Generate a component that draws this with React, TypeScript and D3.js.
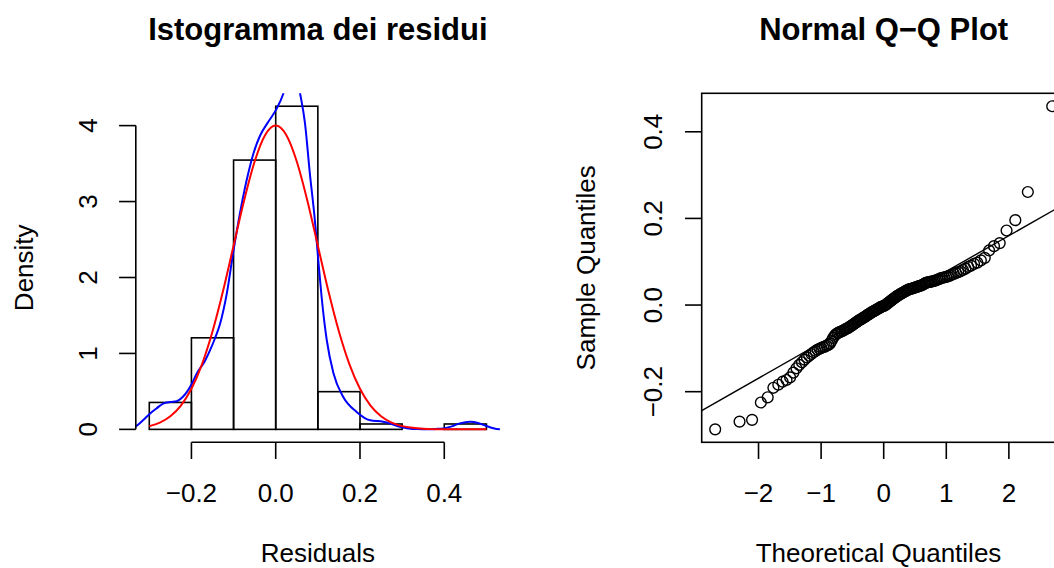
import React from "react";
import * as d3 from "d3";

// ---------------- data ----------------
const BIN_EDGES = [-0.3, -0.2, -0.1, 0, 0.1, 0.2, 0.3, 0.4, 0.5];

// sorted residuals (n = 141)
const RESIDUALS = [
  -0.287, -0.269, -0.265, -0.225, -0.213,
  -0.191, -0.184, -0.177, -0.173, -0.167, -0.156, -0.146, -0.138, -0.132, -0.126,
  -0.121, -0.117, -0.113, -0.109, -0.106, -0.103, -0.101,
  -0.099, -0.097, -0.096, -0.094, -0.092, -0.089, -0.083, -0.076, -0.071, -0.067,
  -0.065, -0.063, -0.062, -0.060, -0.059, -0.057, -0.055, -0.054, -0.052, -0.050,
  -0.048, -0.046, -0.044, -0.042, -0.040, -0.038, -0.036, -0.034, -0.033, -0.031,
  -0.029, -0.028, -0.026, -0.024, -0.022, -0.021, -0.019, -0.017, -0.016, -0.014,
  -0.013, -0.011, -0.010, -0.008, -0.007, -0.005, -0.004, -0.003, -0.002, -0.001,
  0.001, 0.003, 0.005, 0.007, 0.009, 0.011, 0.013, 0.015, 0.017, 0.019,
  0.021, 0.022, 0.024, 0.026, 0.027, 0.029, 0.030, 0.032, 0.033, 0.035,
  0.036, 0.037, 0.0375, 0.0385, 0.0395, 0.0405, 0.0415, 0.0425, 0.0435, 0.0445,
  0.0455, 0.047, 0.049, 0.051, 0.052, 0.053, 0.0535, 0.054, 0.055, 0.056,
  0.057, 0.059, 0.060, 0.062, 0.063, 0.064, 0.065, 0.066, 0.068, 0.070,
  0.072, 0.074, 0.076, 0.078, 0.081, 0.084, 0.088, 0.091, 0.095, 0.098,
  0.103, 0.109, 0.126, 0.136, 0.143, 0.172, 0.196,
  0.261,
  0.459,
];

// blue kernel density line (x, density)
const KDE_CURVE: [number, number][] = [
  [-0.35, 0.01], [-0.334, 0.034], [-0.315, 0.12], [-0.298, 0.21], [-0.282, 0.28],
  [-0.267, 0.34], [-0.25, 0.36], [-0.235, 0.37], [-0.222, 0.42], [-0.211, 0.49],
  [-0.199, 0.6], [-0.187, 0.74], [-0.17, 0.88], [-0.156, 1.04], [-0.144, 1.2],
  [-0.132, 1.39], [-0.116, 1.79], [-0.1, 2.36], [-0.085, 2.84], [-0.069, 3.28],
  [-0.053, 3.63], [-0.037, 3.87], [-0.0175, 4.05], [0.002, 4.22], [0.018, 4.42],
  [0.03, 4.65], [0.042, 4.72], [0.05, 4.65], [0.058, 4.42], [0.0695, 4.03],
  [0.081, 3.37], [0.093, 2.75], [0.101, 2.23], [0.109, 1.74], [0.121, 1.18],
  [0.137, 0.74], [0.16, 0.43], [0.192, 0.23], [0.224, 0.12], [0.255, 0.1],
  [0.275, 0.07], [0.295, 0.034], [0.315, 0.012], [0.335, 0.004], [0.36, 0.003],
  [0.38, 0.006], [0.398, 0.013], [0.418, 0.04], [0.437, 0.079], [0.461, 0.1],
  [0.48, 0.085], [0.4925, 0.06], [0.51, 0.025], [0.532, 0.0], [0.55, 0.0],
];

// red normal density line (x, density)
const NORMAL_CURVE: [number, number][] = [
  [-0.3, 0.043], [-0.275, 0.089], [-0.25, 0.173], [-0.225, 0.313], [-0.2, 0.535],
  [-0.175, 0.857], [-0.15, 1.289], [-0.125, 1.822], [-0.1, 2.419], [-0.075, 3.014],
  [-0.05, 3.527], [-0.025, 3.876], [0, 4.0], [0.025, 3.876], [0.05, 3.527],
  [0.075, 3.014], [0.1, 2.419], [0.125, 1.822], [0.15, 1.289], [0.175, 0.857],
  [0.2, 0.535], [0.225, 0.313], [0.25, 0.173], [0.275, 0.089], [0.3, 0.043],
  [0.325, 0.02], [0.35, 0.008], [0.375, 0.003], [0.4, 0.001], [0.425, 0.0],
  [0.45, 0.0], [0.475, 0.0], [0.5, 0.0],
];

const HIST_X_TICKS = [-0.2, 0, 0.2, 0.4];
const HIST_Y_TICKS = [0, 1, 2, 3, 4];
const QQ_X_TICKS = [-2, -1, 0, 1, 2];
const QQ_Y_TICKS = [-0.2, 0, 0.2, 0.4];

const TITLE_HIST = "Istogramma dei residui";
const TITLE_QQ = "Normal Q\u2212Q Plot";
const XLAB_HIST = "Residuals";
const YLAB_HIST = "Density";
const XLAB_QQ = "Theoretical Quantiles";
const YLAB_QQ = "Sample Quantiles";

// ---------------- helpers ----------------
function qnorm(p: number): number {
  const a = [-39.69683028665376, 220.9460984245205, -275.9285104469687, 138.357751867269, -30.66479806614716, 2.506628277459239];
  const b = [-54.47609879822406, 161.5858368580409, -155.6989798598866, 66.80131188771972, -13.28068155288572];
  const c = [-0.007784894002430293, -0.3223964580411365, -2.400758277161838, -2.549732539343734, 4.374664141464968, 2.938163982698783];
  const d = [0.007784695709041462, 0.3224671290700398, 2.445134137142996, 3.754408661907416];
  const pl = 0.02425;
  if (p < pl) {
    const q = Math.sqrt(-2 * Math.log(p));
    return (((((c[0] * q + c[1]) * q + c[2]) * q + c[3]) * q + c[4]) * q + c[5]) /
      ((((d[0] * q + d[1]) * q + d[2]) * q + d[3]) * q + 1);
  }
  if (p <= 1 - pl) {
    const q = p - 0.5;
    const r = q * q;
    return ((((((a[0] * r + a[1]) * r + a[2]) * r + a[3]) * r + a[4]) * r + a[5]) * q) /
      (((((b[0] * r + b[1]) * r + b[2]) * r + b[3]) * r + b[4]) * r + 1);
  }
  const q = Math.sqrt(-2 * Math.log(1 - p));
  return -(((((c[0] * q + c[1]) * q + c[2]) * q + c[3]) * q + c[4]) * q + c[5]) /
    ((((d[0] * q + d[1]) * q + d[2]) * q + d[3]) * q + 1);
}

const pad = ([lo, hi]: number[]) => [lo - 0.04 * (hi - lo), hi + 0.04 * (hi - lo)];

// ---------------- layout ----------------
const W = 1054;
const H = 568;
const TOP = 93.3;
const BOTTOM = 442.3;
const H_LEFT = 135.8;
const H_RIGHT = 499.9;
const Q_LEFT = 701.7;
const Q_RIGHT = 1065.7;
const TICK = 16.7;
const FONT = "'Liberation Sans', Arial, Helvetica, sans-serif";
const AX = 26;
const TITLE_SIZE = 31;
const LW = 1.6;
const TITLE_Y = 40;
const XLAB_Y = 562;

export default function App() {
  const n = RESIDUALS.length;
  const sorted = [...RESIDUALS].sort((a, b) => a - b);

  // histogram (right-closed bins, density)
  const bins = BIN_EDGES.slice(0, -1).map((x0, i) => {
    const x1 = BIN_EDGES[i + 1];
    const count = sorted.filter((v) => (i === 0 ? v >= x0 : v > x0) && v <= x1).length;
    return { x0, x1, density: count / (n * (x1 - x0)) };
  });
  const maxD = d3.max(bins, (b) => b.density) as number;

  const hx = d3.scaleLinear().domain(pad(d3.extent(BIN_EDGES) as number[])).range([H_LEFT, H_RIGHT]);
  const hy = d3.scaleLinear().domain(pad([0, maxD])).range([BOTTOM, TOP]);

  const hLine = d3
    .line<[number, number]>()
    .x((d) => hx(d[0]))
    .y((d) => hy(d[1]))
    .curve(d3.curveMonotoneX);

  // QQ
  const theo = sorted.map((_, i) => qnorm((i + 0.5) / n));
  const qx = d3.scaleLinear().domain(pad(d3.extent(theo) as number[])).range([Q_LEFT, Q_RIGHT]);
  const qy = d3.scaleLinear().domain(pad(d3.extent(sorted) as number[])).range([BOTTOM, TOP]);
  const q1 = d3.quantile(sorted, 0.25) as number;
  const q3 = d3.quantile(sorted, 0.75) as number;
  const slope = (q3 - q1) / (qnorm(0.75) - qnorm(0.25));
  const intercept = q1 - slope * qnorm(0.25);
  const [qxa, qxb] = qx.domain();

  const fmt1 = d3.format(".1f");
  const fmt0 = d3.format("d");

  const hCx = (H_LEFT + H_RIGHT) / 2;
  const qCx = (Q_LEFT + Q_RIGHT) / 2;
  const cy = (TOP + BOTTOM) / 2;

  return (
    <svg
      width={W}
      height={H}
      style={{ position: "absolute", left: 0, top: 0, display: "block", background: "#fff" }}
      fontFamily={FONT}
    >
      <defs>
        <clipPath id="clipH">
          <rect x={H_LEFT} y={TOP} width={H_RIGHT - H_LEFT} height={BOTTOM - TOP} />
        </clipPath>
        <clipPath id="clipQ">
          <rect x={Q_LEFT} y={TOP} width={Q_RIGHT - Q_LEFT} height={BOTTOM - TOP} />
        </clipPath>
      </defs>

      {/* ---------- histogram panel ---------- */}
      <text x={hCx} y={TITLE_Y} textAnchor="middle" fontSize={TITLE_SIZE} fontWeight="bold">
        {TITLE_HIST}
      </text>
      <g fill="none" stroke="#000" strokeWidth={LW}>
        {bins.map((b, i) => (
          <rect
            key={i}
            x={hx(b.x0)}
            y={hy(b.density)}
            width={hx(b.x1) - hx(b.x0)}
            height={hy(0) - hy(b.density)}
          />
        ))}
      </g>
      <g clipPath="url(#clipH)" fill="none" strokeWidth={2}>
        <path d={hLine(KDE_CURVE) || ""} stroke="#0000ff" />
        <path d={hLine(NORMAL_CURVE) || ""} stroke="#ff0000" />
      </g>
      {/* y axis */}
      <g stroke="#000" strokeWidth={LW}>
        <line x1={H_LEFT} x2={H_LEFT} y1={hy(HIST_Y_TICKS[0])} y2={hy(HIST_Y_TICKS[HIST_Y_TICKS.length - 1])} />
        {HIST_Y_TICKS.map((t) => (
          <line key={t} x1={H_LEFT - TICK} x2={H_LEFT} y1={hy(t)} y2={hy(t)} />
        ))}
      </g>
      {HIST_Y_TICKS.map((t) => (
        <text key={t} transform={`translate(96.5,${hy(t)}) rotate(-90)`} textAnchor="middle" fontSize={AX}>
          {fmt0(t)}
        </text>
      ))}
      {/* x axis */}
      <g stroke="#000" strokeWidth={LW}>
        <line x1={hx(HIST_X_TICKS[0])} x2={hx(HIST_X_TICKS[HIST_X_TICKS.length - 1])} y1={BOTTOM} y2={BOTTOM} />
        {HIST_X_TICKS.map((t) => (
          <line key={t} x1={hx(t)} x2={hx(t)} y1={BOTTOM} y2={BOTTOM + TICK} />
        ))}
      </g>
      {HIST_X_TICKS.map((t) => (
        <text key={t} x={hx(t)} y={501.7} textAnchor="middle" fontSize={AX}>
          {fmt1(t)}
        </text>
      ))}
      <text x={hCx} y={XLAB_Y} textAnchor="middle" fontSize={AX}>
        {XLAB_HIST}
      </text>
      <text transform={`translate(32.5,${cy}) rotate(-90)`} textAnchor="middle" fontSize={AX}>
        {YLAB_HIST}
      </text>

      {/* ---------- QQ panel ---------- */}
      <text x={qCx} y={TITLE_Y} textAnchor="middle" fontSize={TITLE_SIZE} fontWeight="bold">
        {TITLE_QQ}
      </text>
      <g clipPath="url(#clipQ)">
        <g fill="none" stroke="#000" strokeWidth={1.4}>
          {sorted.map((v, i) => (
            <circle key={i} cx={qx(theo[i])} cy={qy(v)} r={5.4} />
          ))}
        </g>
        <line
          x1={qx(qxa)}
          y1={qy(intercept + slope * qxa)}
          x2={qx(qxb)}
          y2={qy(intercept + slope * qxb)}
          stroke="#000"
          strokeWidth={1.4}
        />
      </g>
      <rect
        x={Q_LEFT}
        y={TOP}
        width={Q_RIGHT - Q_LEFT}
        height={BOTTOM - TOP}
        fill="none"
        stroke="#000"
        strokeWidth={LW}
      />
      <g stroke="#000" strokeWidth={LW}>
        {QQ_Y_TICKS.map((t) => (
          <line key={t} x1={Q_LEFT - TICK} x2={Q_LEFT} y1={qy(t)} y2={qy(t)} />
        ))}
        {QQ_X_TICKS.map((t) => (
          <line key={t} x1={qx(t)} x2={qx(t)} y1={BOTTOM} y2={BOTTOM + TICK} />
        ))}
      </g>
      {QQ_Y_TICKS.map((t) => (
        <text key={t} transform={`translate(662,${qy(t)}) rotate(-90)`} textAnchor="middle" fontSize={AX}>
          {fmt1(t)}
        </text>
      ))}
      {QQ_X_TICKS.map((t) => (
        <text key={t} x={qx(t)} y={501.7} textAnchor="middle" fontSize={AX}>
          {fmt0(t)}
        </text>
      ))}
      <text x={878.5} y={XLAB_Y} textAnchor="middle" fontSize={AX}>
        {XLAB_QQ}
      </text>
      <text transform={`translate(595.3,${cy}) rotate(-90)`} textAnchor="middle" fontSize={AX}>
        {YLAB_QQ}
      </text>
    </svg>
  );
}
